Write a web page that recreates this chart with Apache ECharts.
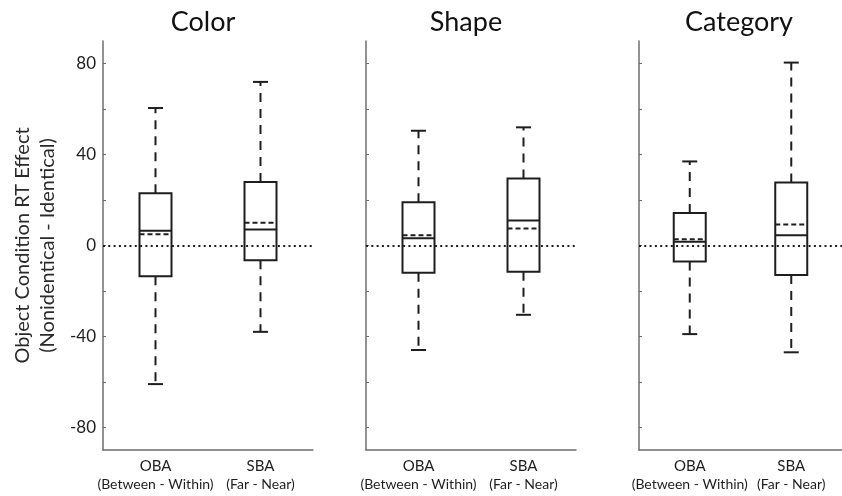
<!DOCTYPE html>
<html>
<head>
<meta charset="utf-8">
<script src="https://cdn.jsdelivr.net/npm/echarts@6/dist/echarts.min.js"></script>
<style>
  html, body { margin: 0; padding: 0; background: #fff; }
  #chart { width: 842px; height: 496px; }
</style>
</head>
<body>
<div id="chart"></div>
<script>
// Panel titles and the two contrasts shown in each panel
const panelTitles = ['Color', 'Shape', 'Category'];
const groupNames = ['OBA', 'SBA'];
const groupContrasts = ['(Between - Within)', '(Far - Near)'];

// Y axis ticks and labels
const yTickValues = [-80, -60, -40, -20, 0, 20, 40, 60, 80];
const yLabelValues = [-80, -40, 0, 40, 80];

// Box statistics per panel: [OBA, SBA]
const colorLow    = [-61, -38];
const colorQ1     = [-13.5, -6.5];
const colorMedian = [6.5, 7];
const colorMean   = [5, 10];
const colorQ3     = [23, 28];
const colorHigh   = [60.5, 72];

const shapeLow    = [-46, -30.5];
const shapeQ1     = [-12, -11.5];
const shapeMedian = [3.2, 11];
const shapeMean   = [4.5, 7.5];
const shapeQ3     = [19, 29.5];
const shapeHigh   = [50.5, 52];

const categoryLow    = [-39, -47];
const categoryQ1     = [-7, -13];
const categoryMedian = [1.7, 4.5];
const categoryMean   = [2.8, 9.2];
const categoryQ3     = [14.3, 27.7];
const categoryHigh   = [37, 80.5];

const panelStats = [
  [colorLow, colorQ1, colorMedian, colorMean, colorQ3, colorHigh],
  [shapeLow, shapeQ1, shapeMedian, shapeMean, shapeQ3, shapeHigh],
  [categoryLow, categoryQ1, categoryMedian, categoryMean, categoryQ3, categoryHigh]
];

const FONT = 'Lato, "DejaVu Sans", sans-serif';
const INK = '#1e1e1e';
const AXIS = '#6e6e6e';
const gridLefts = [103, 366, 639];
const GRID_W = 210;
const BOX_W = 32;
const CAP_W = 15;

function buildRows(stats) {
  const [low, q1, med, mean, q3, high] = stats;
  return groupNames.map((_, i) => [i, low[i], q1[i], med[i], mean[i], q3[i], high[i]]);
}

function renderBox(params, api) {
  const idx = api.value(0);
  const cx = api.coord([idx, 0])[0];
  const y = (k) => api.coord([idx, api.value(k)])[1];
  const yLow = y(1), yQ1 = y(2), yMed = y(3), yMean = y(4), yQ3 = y(5), yHigh = y(6);
  const solid = { stroke: INK, lineWidth: 2, fill: null };
  const whisker = { stroke: INK, lineWidth: 2, lineDash: [9, 7] };
  const meanStyle = { stroke: INK, lineWidth: 2, lineDash: [5, 3] };
  const hb = BOX_W / 2, hc = CAP_W / 2;
  return {
    type: 'group',
    children: [
      { type: 'line', shape: { x1: cx, y1: yQ3, x2: cx, y2: yHigh }, style: whisker },
      { type: 'line', shape: { x1: cx, y1: yQ1, x2: cx, y2: yLow }, style: whisker },
      { type: 'line', shape: { x1: cx - hc, y1: yHigh, x2: cx + hc, y2: yHigh }, style: solid },
      { type: 'line', shape: { x1: cx - hc, y1: yLow, x2: cx + hc, y2: yLow }, style: solid },
      { type: 'rect', shape: { x: cx - hb, y: yQ3, width: BOX_W, height: yQ1 - yQ3 }, style: solid },
      { type: 'line', shape: { x1: cx - hb, y1: yMed, x2: cx + hb, y2: yMed }, style: solid },
      { type: 'line', shape: { x1: cx - hb, y1: yMean, x2: cx + hb, y2: yMean }, style: meanStyle }
    ]
  };
}

const grids = gridLefts.map(l => ({ left: l, width: GRID_W, top: 41, height: 409, containLabel: false }));

const xAxes = gridLefts.map((_, g) => ({
  type: 'category',
  gridIndex: g,
  data: groupNames,
  boundaryGap: true,
  axisLine: { onZero: false, lineStyle: { color: AXIS, width: 1.5 } },
  axisTick: { inside: true, length: 4, alignWithLabel: true, lineStyle: { color: AXIS } },
  axisLabel: {
    interval: 0,
    margin: 7,
    color: INK,
    fontFamily: FONT,
    formatter: (v, i) => '{g|' + v + '}\n{c|' + groupContrasts[i] + '}',
    rich: {
      g: { fontSize: 15, fontFamily: FONT, color: INK, lineHeight: 18 },
      c: { fontSize: 14, fontFamily: FONT, color: INK, lineHeight: 18 }
    }
  },
  splitLine: { show: false }
}));

const yAxes = gridLefts.map((_, g) => ({
  type: 'value',
  gridIndex: g,
  min: -90,
  max: 90,
  axisLine: { show: true, lineStyle: { color: AXIS, width: 1.5 } },
  axisTick: { show: true, inside: true, length: 3, customValues: yTickValues, lineStyle: { color: AXIS } },
  axisLabel: {
    show: g === 0,
    customValues: yLabelValues,
    margin: 7,
    fontSize: 17,
    fontFamily: FONT,
    color: INK
  },
  splitLine: { show: false },
  name: g === 0 ? 'Object Condition RT Effect\n(Nonidentical - Identical)' : '',
  nameLocation: 'middle',
  nameRotate: 90,
  nameGap: 43,
  nameTextStyle: { fontSize: 20, fontFamily: FONT, color: '#2a2a2a', lineHeight: 25 }
}));

const series = panelStats.map((stats, g) => ({
  type: 'custom',
  xAxisIndex: g,
  yAxisIndex: g,
  renderItem: renderBox,
  encode: { x: 0, y: [1, 2, 3, 4, 5, 6] },
  data: buildRows(stats),
  silent: true,
  markLine: {
    silent: true,
    symbol: 'none',
    label: { show: false },
    lineStyle: { color: INK, width: 2, type: [2, 3.3] },
    data: [{ yAxis: 0 }],
    z: 1
  }
}));

const titleGraphics = panelTitles.map((t, g) => ({
  type: 'text',
  style: {
    text: t,
    x: gridLefts[g] + GRID_W / 2 - 5,
    y: 9,
    textAlign: 'center',
    textVerticalAlign: 'top',
    font: '27px ' + FONT,
    fill: '#111'
  }
}));

const chart = echarts.init(document.getElementById('chart'), null, { renderer: 'canvas' });
chart.setOption({
  backgroundColor: '#fff',
  animation: false,
  grid: grids,
  xAxis: xAxes,
  yAxis: yAxes,
  series: series,
  graphic: titleGraphics
});
</script>
</body>
</html>
